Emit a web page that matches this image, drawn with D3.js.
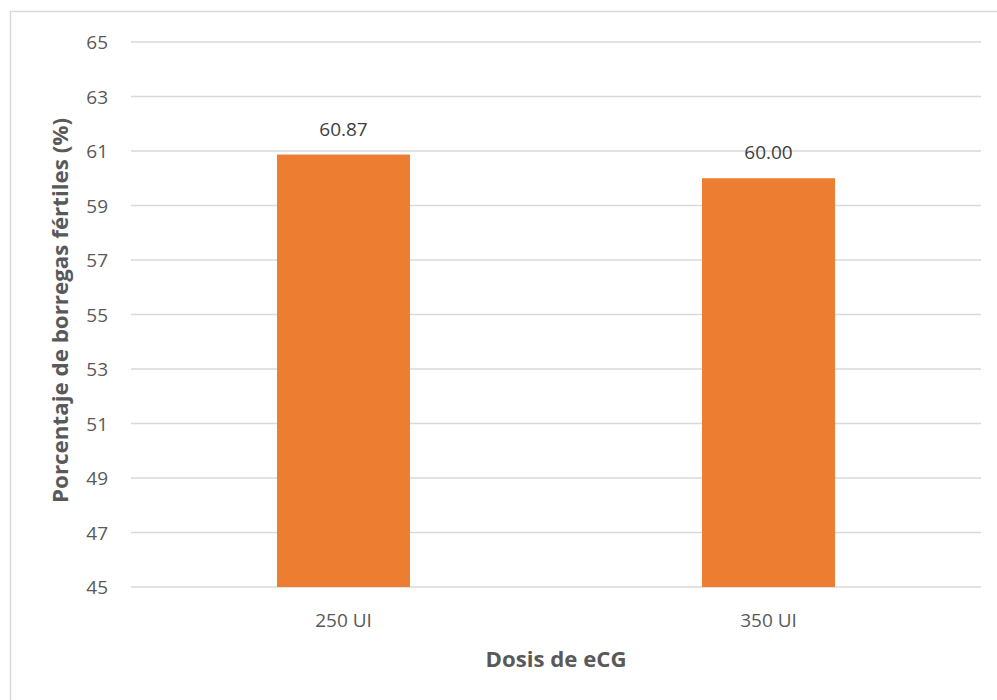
<!DOCTYPE html>
<html><head><meta charset="utf-8">
<script src="https://cdn.jsdelivr.net/npm/d3@7"></script>
<style>body{margin:0;background:#fff;}svg{display:block;}</style>
</head><body>
<svg id="c" width="997" height="700"></svg>
<script>
const categories = ["250 UI", "350 UI"];
const values = [60.87, 60.00];
const yTicks = [45, 47, 49, 51, 53, 55, 57, 59, 61, 63, 65];
const xTitle = "Dosis de eCG";
const yTitle = "Porcentaje de borregas fértiles (%)";

const svg = d3.select("#c");
const font = "'Open Sans', 'Liberation Sans', sans-serif";
const m = {left: 131, right: 981, top: 42, bottom: 587};

svg.append("rect").attr("x", 10.5).attr("y", 11.5).attr("width", 1000).attr("height", 700)
  .attr("fill", "#fff").attr("stroke", "#d9d9d9").attr("stroke-width", 1.5);

const x = d3.scaleBand().domain(categories).range([m.left, m.right]).paddingInner(0.687).paddingOuter(0.3435);
const y = d3.scaleLinear().domain([45, 65]).range([m.bottom, m.top]);

svg.append("g").selectAll("line").data(yTicks).join("line")
  .attr("x1", m.left).attr("x2", m.right)
  .attr("y1", d => y(d)).attr("y2", d => y(d))
  .attr("stroke", "#d9d9d9").attr("stroke-width", 1.3);

svg.append("g").selectAll("text").data(yTicks).join("text")
  .attr("x", 108).attr("y", d => y(d) + 7)
  .attr("text-anchor", "end").attr("font-family", font).attr("font-size", 19).attr("fill", "#595959")
  .text(d => d);

svg.append("g").selectAll("rect").data(values).join("rect")
  .attr("x", (d, i) => x(categories[i])).attr("width", x.bandwidth())
  .attr("y", d => y(d)).attr("height", d => y(45) - y(d))
  .attr("fill", "#ED7D31");

svg.append("g").selectAll("text").data(values).join("text")
  .attr("x", (d, i) => x(categories[i]) + x.bandwidth() / 2).attr("y", d => y(d) - 19)
  .attr("text-anchor", "middle").attr("font-family", font).attr("font-size", 19).attr("fill", "#404040")
  .text(d => d.toFixed(2));

svg.append("g").selectAll("text").data(categories).join("text")
  .attr("x", d => x(d) + x.bandwidth() / 2).attr("y", 627)
  .attr("text-anchor", "middle").attr("font-family", font).attr("font-size", 19).attr("fill", "#595959")
  .text(d => d);

svg.append("text").attr("x", (m.left + m.right) / 2).attr("y", 667)
  .attr("text-anchor", "middle").attr("font-family", font).attr("font-size", 21).attr("font-weight", "bold").attr("fill", "#595959")
  .attr("textLength", 141).attr("lengthAdjust", "spacingAndGlyphs")
  .text(xTitle);

svg.append("text").attr("transform", `translate(68,${(118 + 503) / 2}) rotate(-90)`)
  .attr("text-anchor", "middle").attr("font-family", font).attr("font-size", 21).attr("font-weight", "bold").attr("fill", "#595959")
  .attr("textLength", 385).attr("lengthAdjust", "spacingAndGlyphs")
  .text(yTitle);
</script>
</body></html>
